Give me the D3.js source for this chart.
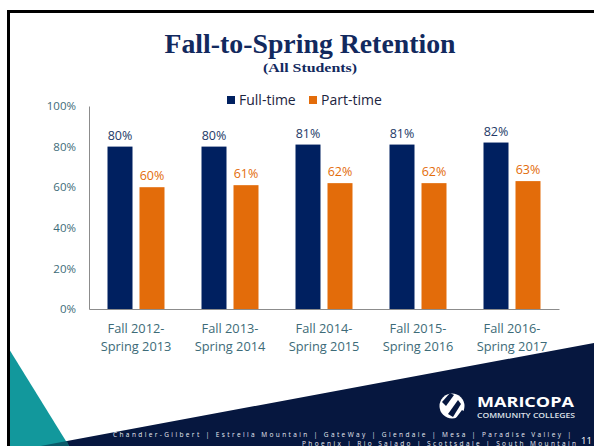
<!DOCTYPE html>
<html>
<head>
<title>Fall-to-Spring Retention</title>
<script src="https://cdn.jsdelivr.net/npm/d3@7"></script>
<style type="text/css">
body { margin: 0; background: #fff; }
svg { display: block; }
.tick text { font-family: "Open Sans", sans-serif; }
</style>
</head>
<body>
<div id="chart"></div>
<script type="text/javascript">
// chart data
var categories = [
  ["Fall 2012-", "Spring 2013"],
  ["Fall 2013-", "Spring 2014"],
  ["Fall 2014-", "Spring 2015"],
  ["Fall 2015-", "Spring 2016"],
  ["Fall 2016-", "Spring 2017"]
];
var seriesNames = ["Full-time", "Part-time"];
var fullTime = [0.80, 0.80, 0.81, 0.81, 0.82];
var partTime = [0.60, 0.61, 0.62, 0.62, 0.63];
var yTicks = [0, 0.2, 0.4, 0.6, 0.8, 1.0];
var colleges1 = "Chandler-Gilbert | Estrella Mountain | GateWay | Glendale | Mesa | Paradise Valley |";
var colleges2 = "Phoenix | Rio Salado | Scottsdale | South Mountain";

var W = 594, H = 446;
var navy = "#002060", orange = "#e36c0a", labelCol = "#3d6b78";

var svg = d3.select("#chart").append("svg")
  .attr("width", W).attr("height", H);

/* slide decoration */
svg.append("polygon")
  .attr("points", [[0, 453], [67, 441], [594, 343], [594, 446], [0, 446]].join(" "))
  .attr("fill", "#06173f");
svg.append("polygon")
  .attr("points", [[9, 349], [69, 446], [9, 446]].join(" "))
  .attr("fill", "#12989c");
svg.append("polygon")
  .attr("points", [[9, 452], [67, 441], [69, 446], [9, 446]].join(" "))
  .attr("fill", "#0a5a6a");
svg.append("rect").attr("x", 7).attr("y", 10).attr("width", W).attr("height", 3).attr("fill", "#000");
svg.append("rect").attr("x", 7).attr("y", 10).attr("width", 3).attr("height", H).attr("fill", "#000");

/* titles */
svg.append("text")
  .attr("x", 310).attr("y", 53).attr("text-anchor", "middle")
  .attr("textLength", 291).attr("lengthAdjust", "spacingAndGlyphs")
  .style("font", "bold 27px 'Liberation Serif', serif").attr("fill", "#12295e")
  .text("Fall-to-Spring Retention");
svg.append("text")
  .attr("x", 310).attr("y", 72).attr("text-anchor", "middle")
  .attr("textLength", 94).attr("lengthAdjust", "spacingAndGlyphs")
  .style("font", "bold 13.5px 'Liberation Serif', serif").attr("fill", "#12295e")
  .text("(All Students)");

/* scales */
var x0 = d3.scaleBand().domain(d3.range(categories.length))
  .range([89, 559]).paddingInner(37 / 94).paddingOuter(37 / 188);
var x1 = d3.scaleBand().domain(seriesNames)
  .range([0, x0.bandwidth()]).paddingInner(7 / 32);
var y = d3.scaleLinear().domain([0, 1]).range([309, 106]);
var color = d3.scaleOrdinal().domain(seriesNames).range([navy, orange]);
var labelColor = d3.scaleOrdinal().domain(seriesNames).range(["#243a68", orange]);

/* y axis */
var yAxis = svg.append("g").attr("transform", "translate(89,0)")
  .call(d3.axisLeft(y).tickValues(yTicks).tickSize(0).tickPadding(13).tickFormat(d3.format(".0%")));
yAxis.select(".domain").attr("stroke", "#8c8c8c");
yAxis.selectAll(".tick text").attr("fill", labelCol).style("font-size", "11.5px");

/* bars */
var rows = categories.map(function (c, i) {
  return [{ s: "Full-time", v: fullTime[i] }, { s: "Part-time", v: partTime[i] }];
});
var groups = svg.selectAll("g.cat").data(rows).enter().append("g")
  .attr("class", "cat")
  .attr("transform", function (d, i) { return "translate(" + x0(i) + ",0)"; });
groups.selectAll("rect").data(function (d) { return d; }).enter().append("rect")
  .attr("x", function (d) { return x1(d.s); })
  .attr("width", x1.bandwidth())
  .attr("y", function (d) { return y(d.v); })
  .attr("height", function (d) { return y(0) - y(d.v); })
  .attr("fill", function (d) { return color(d.s); });
groups.selectAll("text.val").data(function (d) { return d; }).enter().append("text")
  .attr("class", "val")
  .attr("x", function (d) { return x1(d.s) + x1.bandwidth() / 2; })
  .attr("y", function (d) { return y(d.v) - 7; })
  .attr("text-anchor", "middle")
  .style("font", "12.5px 'Open Sans', sans-serif")
  .attr("fill", function (d) { return labelColor(d.s); })
  .text(function (d) { return d3.format(".0%")(d.v); });

/* x axis */
var xAxis = svg.append("g").attr("transform", "translate(0,309)")
  .call(d3.axisBottom(x0).tickSize(0).tickFormat(""));
xAxis.select(".domain").attr("stroke", "#8c8c8c");
xAxis.selectAll(".tick text").remove();
svg.selectAll("text.cat").data(categories).enter().append("text")
  .attr("class", "cat")
  .attr("x", function (d, i) { return x0(i) + x0.bandwidth() / 2; })
  .attr("y", 333)
  .attr("text-anchor", "middle")
  .style("font", "12.8px 'Open Sans', sans-serif")
  .attr("fill", labelCol)
  .selectAll("tspan").data(function (d) { return d; }).enter().append("tspan")
  .attr("x", function () { return this.parentNode.getAttribute("x"); })
  .attr("dy", function (d, i) { return i ? 18 : 0; })
  .text(function (d) { return d; });

/* legend */
var legX = [227, 309];
var leg = svg.selectAll("g.leg").data(seriesNames).enter().append("g")
  .attr("class", "leg")
  .attr("transform", function (d, i) { return "translate(" + legX[i] + ",96)"; });
leg.append("rect").attr("width", 8).attr("height", 8).attr("fill", function (d) { return color(d); });
leg.append("text").attr("x", 12).attr("y", 9)
  .style("font", "14px 'Open Sans', sans-serif").attr("fill", "#1c2440")
  .text(function (d) { return d; });

/* footer */
var logo = svg.append("g").attr("transform", "translate(452,406)");
logo.append("circle").attr("r", 12.5).attr("fill", "#fff");
logo.append("path").attr("d", "M-10,-4 L-2,-13 L2,-11 L-6,0 Z").attr("fill", "#06173f");
logo.append("path").attr("d", "M-4,8 L6,-6 L9,-2 L1,11 Z").attr("fill", "#06173f");
logo.append("path").attr("d", "M4,12 L10,4 L13,6 L8,14 Z").attr("fill", "#06173f");
svg.append("text").attr("x", 477).attr("y", 407)
  .attr("textLength", 97).attr("lengthAdjust", "spacingAndGlyphs")
  .style("font", "bold 15px 'Open Sans', sans-serif").attr("fill", "#fff")
  .text("MARICOPA");
svg.append("text").attr("x", 477).attr("y", 417.5)
  .attr("textLength", 98).attr("lengthAdjust", "spacingAndGlyphs")
  .style("font", "600 7px 'Open Sans', sans-serif").attr("fill", "#dfe3ea")
  .text("COMMUNITY COLLEGES");
svg.append("text").attr("x", 113).attr("y", 436.5)
  .attr("textLength", 458).attr("lengthAdjust", "spacing")
  .style("font", "6.5px 'Open Sans', sans-serif").attr("fill", "#e8ebf2")
  .text(colleges1);
svg.append("text").attr("x", 302).attr("y", 445.5)
  .attr("textLength", 274).attr("lengthAdjust", "spacing")
  .style("font", "6.5px 'Open Sans', sans-serif").attr("fill", "#e8ebf2")
  .text(colleges2);
svg.append("text").attr("x", 581).attr("y", 444)
  .style("font", "9.5px 'Open Sans', sans-serif").attr("fill", "#fff")
  .text("11");
</script>
</body>
</html>
